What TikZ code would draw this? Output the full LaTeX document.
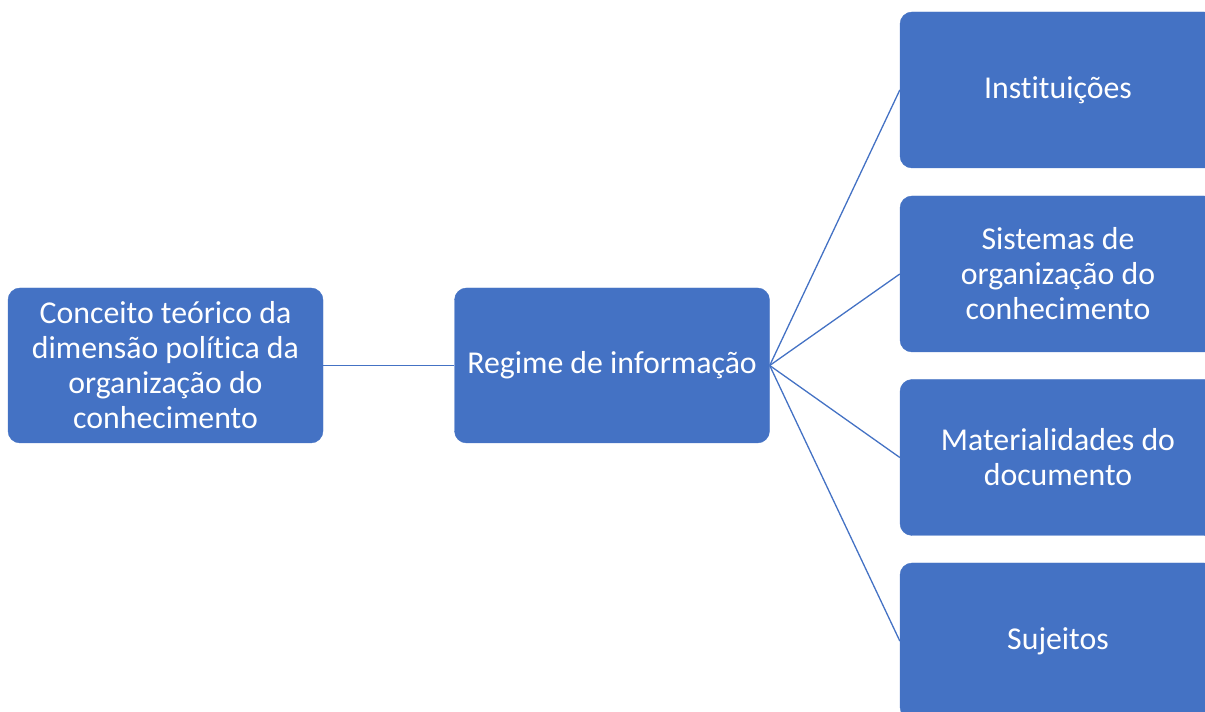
\documentclass[tikz,border=0pt]{standalone}
\usepackage{fontspec}
\setmainfont[Ligatures=NoCommon]{Carlito}
\definecolor{boxblue}{HTML}{4472C4}
\begin{document}
\begin{tikzpicture}[x=1pt,y=1pt,
  box/.style={draw=boxblue,fill=boxblue,rounded corners=12pt,minimum width=315pt,minimum height=155pt,inner sep=0pt,text=white,align=center,font=\fontsize{31.8}{35}\selectfont},
  link/.style={draw=boxblue,line width=1.3pt}]
\clip (0,0) rectangle (1205,712);
\useasboundingbox (0,0) rectangle (1205,712);
\node[box] (left) at (165.5,346.5) {Conceito teórico da\\dimensão política da\\organização do\\conhecimento};
\node[box] (mid) at (612,346.5) {Regime de informação};
\node[box,minimum width=316pt,minimum height=156pt] (r1) at (1058,622) {Instituições};
\node[box,minimum width=316pt,minimum height=156pt] (r2) at (1058,438) {Sistemas de\\organização do\\conhecimento};
\node[box,minimum width=316pt,minimum height=156pt] (r3) at (1058,254.5) {Materialidades do\\documento};
\node[box,minimum width=316pt,minimum height=156pt] (r4) at (1058,71) {Sujeitos};
\draw[link] (left.east) -- (mid.west);
\draw[link] (mid.east) -- (r1.west);
\draw[link] (mid.east) -- (r2.west);
\draw[link] (mid.east) -- (r3.west);
\draw[link] (mid.east) -- (r4.west);
\end{tikzpicture}
\end{document}
